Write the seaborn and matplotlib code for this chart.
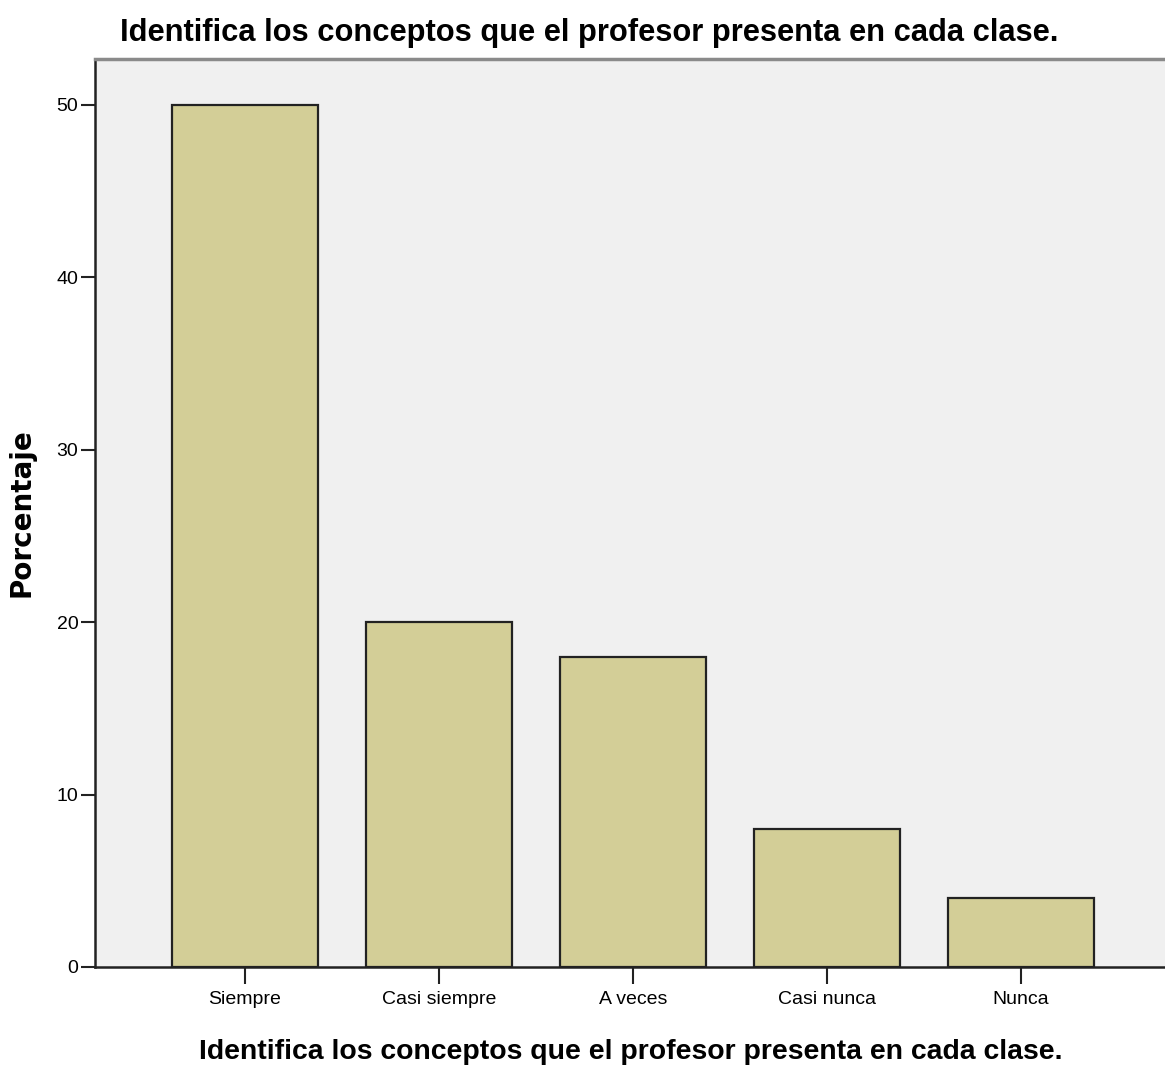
import matplotlib
matplotlib.use("Agg")
import matplotlib.pyplot as plt
import seaborn as sns
import pandas as pd

categories = ["Siempre", "Casi siempre", "A veces", "Casi nunca", "Nunca"]
percentages = [50, 20, 18, 8, 4]
y_ticks = [0, 10, 20, 30, 40, 50]

title_text = "Identifica los conceptos que el profesor presenta en cada clase."

df = pd.DataFrame({"categoria": categories, "porcentaje": percentages})

sns.set_style("white")
plt.rcParams["font.family"] = ["Liberation Sans Narrow", "Liberation Sans", "DejaVu Sans"]
plt.rcParams["text.color"] = "black"
plt.rcParams["axes.labelcolor"] = "black"
plt.rcParams["xtick.color"] = "black"
plt.rcParams["ytick.color"] = "black"

fig = plt.figure(figsize=(11.65, 10.66), dpi=100)
ax = fig.add_axes([0.0815, 0.0929, 0.9185, 0.8518])
ax.set_facecolor("#F0F0F0")

sns.barplot(data=df, x="categoria", y="porcentaje", order=categories,
            color="#D3CE97", saturation=1, width=0.75,
            edgecolor="#222222", linewidth=1.6, ax=ax)

ax.set_xlim(-0.773, 4.742)
ax.set_ylim(0, 52.67)
ax.set_yticks(y_ticks)

ax.tick_params(axis="y", direction="out", length=10, width=1.5, color="#222222",
               labelsize=14, pad=2, left=True)
ax.tick_params(axis="x", direction="out", length=12, width=1.5, color="#222222",
               labelsize=14, pad=5, bottom=True)

for side in ["left", "bottom"]:
    ax.spines[side].set_color("#222222")
    ax.spines[side].set_linewidth(1.8)
ax.spines["top"].set_color("#8A8A8A")
ax.spines["top"].set_linewidth(2.5)
ax.spines["right"].set_visible(False)

ax.set_xlabel(title_text, fontsize=20.4, fontweight="bold", va="center")
ax.xaxis.set_label_coords(0.501, -0.0937)
ax.set_ylabel("Porcentaje", fontsize=20, fontweight="bold", va="center",
              family=["DejaVu Sans"])
ax.yaxis.set_label_coords(-0.0685, 0.5)
fig.text(0.506, 0.969, title_text, ha="center", va="center",
         fontsize=22.25, fontweight="bold")

plt.savefig("out.png", dpi=100)
plt.close()
